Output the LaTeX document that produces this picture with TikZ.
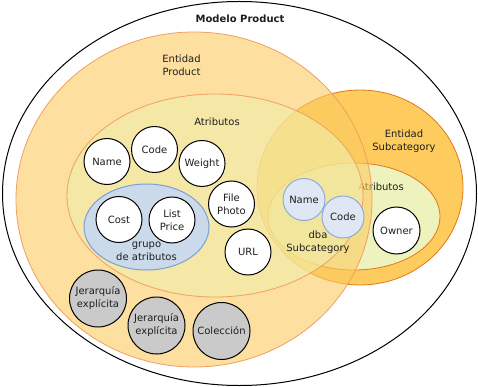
\documentclass[tikz,border=0pt]{standalone}
\usepackage{fontspec}
\setmainfont{DejaVu Sans}
\definecolor{entfill}{HTML}{FCCB61}
\definecolor{atrfill}{HTML}{F0EFAD}
\definecolor{subent}{HTML}{FECC5E}
\definecolor{subatr}{HTML}{EEF2BD}
\definecolor{subline}{HTML}{DE7A1C}
\definecolor{prodline}{HTML}{F0A060}
\definecolor{grpfill}{HTML}{CBDAEB}
\definecolor{grpline}{HTML}{7D9ED3}
\definecolor{lbfill}{HTML}{DFE7F4}
\definecolor{lbline}{HTML}{8EABDA}
\definecolor{grayfill}{HTML}{CACACA}
\definecolor{txt}{HTML}{1E1E1E}
\begin{document}
\begin{tikzpicture}[x=1pt,y=-1pt,
  every node/.style={font=\fontsize{10}{13}\selectfont, text=txt},
  attr/.style={circle, draw=black, line width=1pt, fill=white, inner sep=0pt, minimum size=46pt, align=center},
  hier/.style={attr, fill=grayfill, minimum size=57pt},
  subattr/.style={attr, fill=lbfill, draw=lbline, minimum size=42pt},
  lbl/.style={align=center, inner sep=0pt},
  prodlayer/.style={fill opacity=0.6, draw=prodline, line width=0.8pt}]
\useasboundingbox (0,0) rectangle (478,387);
% outer model
\draw[line width=1pt, fill=white] (239.5,193.5) ellipse [x radius=237pt, y radius=192pt];
% subcategory entity
\draw[fill=subent, draw=subline, line width=0.8pt] (360,187.5) ellipse [x radius=103pt, y radius=97.5pt];
\draw[fill=subatr, draw=subline, line width=0.8pt] (354,216.5) ellipse [x radius=86pt, y radius=53.5pt];
\node[lbl] (subatrlbl) at (381,187) {Atributos};
% product entity
\draw[prodlayer, fill=entfill] (194,199.5) ellipse [x radius=178pt, y radius=167.5pt];
\draw[prodlayer, fill=atrfill] (215,195.5) ellipse [x radius=148pt, y radius=101.5pt];
% group
\draw[fill=grpfill, draw=grpline, line width=1pt] (146.5,227) ellipse [x radius=62.5pt, y radius=43pt];
% labels
\node[lbl, font=\fontsize{10}{13}\selectfont\bfseries] (title) at (240,19) {Modelo Product};
\node[lbl] (entprod) at (181.5,65.5) {Entidad\\Product};
\node[lbl] (prodatr) at (217,122) {Atributos};
\node[lbl] (entsub) at (404,141.5) {Entidad\\Subcategory};
\node[lbl] (grplbl) at (146.5,251.5) {grupo\\de atributos};
\node[lbl] (dbalbl) at (318,242.5) {dba\\Subcategory};
% attribute nodes
\node[attr] (name) at (107,161.5) {Name};
\node[attr] (code) at (154.5,149.5) {Code};
\node[attr] (weight) at (202,163.5) {Weight};
\node[attr] (photo) at (231.5,204) {File\\Photo};
\node[attr] (cost) at (119,219.5) {Cost};
\node[attr] (price) at (172,220) {List\\Price};
\node[attr] (url) at (248,252) {URL};
\node[attr, minimum size=47pt] (owner) at (396.5,230.5) {Owner};
\node[subattr] (sname) at (304,199.5) {Name};
\node[subattr] (scode) at (343,217) {Code};
\node[hier] (jer1) at (98,298.5) {Jerarquía\\explícita};
\node[hier] (jer2) at (156.5,325.5) {Jerarquía\\explícita};
\node[hier] (col) at (221.5,331) {Colección};
\end{tikzpicture}
\end{document}
